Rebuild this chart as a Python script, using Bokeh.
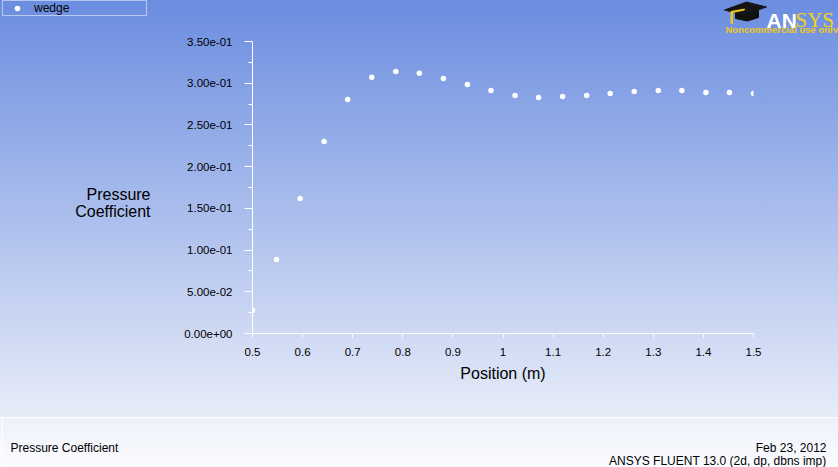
from bokeh.plotting import figure
from bokeh.layouts import column, row
from bokeh.models import (Range1d, FixedTicker, CustomJSTickFormatter, Label,
                          Legend, LegendItem)
from bokeh.embed import file_html
from bokeh.resources import INLINE

# ---------------- data ----------------
position = [0.5, 0.548, 0.595, 0.643, 0.690, 0.738, 0.786, 0.833, 0.881, 0.929, 0.976,
            1.024, 1.071, 1.119, 1.167, 1.214, 1.262, 1.310, 1.357, 1.405, 1.452, 1.5]
pressure_coefficient = [0.0276, 0.0887, 0.1619, 0.2302, 0.2806, 0.3070, 0.3141, 0.3118,
                        0.3058, 0.2986, 0.2914, 0.2854, 0.2830, 0.2842, 0.2854, 0.2878,
                        0.2902, 0.2914, 0.2914, 0.2890, 0.2890, 0.2878]
series_name = "wedge"
x_ticks = [0.5, 0.6, 0.7, 0.8, 0.9, 1.0, 1.1, 1.2, 1.3, 1.4, 1.5]
y_ticks = [0.0, 0.05, 0.10, 0.15, 0.20, 0.25, 0.30, 0.35]
y_minor_ticks = [0.025, 0.075, 0.125, 0.175, 0.225, 0.275, 0.325]
x_title = "Position (m)"
y_title = ["Pressure", "Coefficient"]
footer_left = "Pressure Coefficient"
footer_date = "Feb 23, 2012"
footer_version = "ANSYS FLUENT 13.0 (2d, dp, dbns imp)"
logo_main = ["AN", "SYS"]
logo_note = "Noncommercial use only"

# ---------------- page geometry (pixels) ----------------
PAGE_W, PAGE_H = 838, 467
SIDE_W = 176          # left strip: legend + y title
TOP_H = 33            # top strip: logo
FOOT_H = 50           # footer strip
FRAME_L, FRAME_R, FRAME_T, FRAME_B = 252, 753, 41, 333
FONT = "Liberation Sans"
YELLOW = "#ecca1c"


def blank(width, height, x0, y0):
    """Decoration canvas whose data units are page pixels (y grows downward)."""
    f = figure(width=width, height=height, output_backend="svg",
               toolbar_location=None, x_axis_type=None, y_axis_type=None,
               x_range=Range1d(x0, x0 + width), y_range=Range1d(y0 + height, y0),
               min_border=0, title_location=None)
    f.background_fill_alpha = 0
    f.border_fill_alpha = 0
    f.outline_line_color = None
    return f


def text(f, px, py, s, align="left", size="12px", color="black",
         font=FONT, style="normal"):
    f.add_layout(Label(x=px, y=py, text=s, text_align=align,
                       text_baseline="alphabetic", text_font=font,
                       text_font_style=style, text_font_size=size,
                       text_color=color))


# ---------------- main chart ----------------
main_w = PAGE_W - SIDE_W
main_h = PAGE_H - TOP_H - FOOT_H
p = figure(width=main_w, height=main_h, output_backend="svg", toolbar_location=None,
           x_range=Range1d(0.5, 1.5), y_range=Range1d(0.0, 0.35),
           min_border_left=FRAME_L - SIDE_W, min_border_right=PAGE_W - FRAME_R,
           min_border_top=FRAME_T - TOP_H, min_border_bottom=PAGE_H - FOOT_H - FRAME_B,
           title_location=None)
p.background_fill_alpha = 0
p.border_fill_alpha = 0
p.outline_line_color = None
p.xgrid.visible = False
p.ygrid.visible = False

xa = p.xaxis[0]
xa.ticker = FixedTicker(ticks=x_ticks, minor_ticks=[])
xa.formatter = CustomJSTickFormatter(code="return String(Math.round(tick*10)/10);")
xa.axis_label = x_title
xa.axis_line_color = "white"
xa.major_tick_line_color = "white"
xa.major_tick_out = 4
xa.major_tick_in = 0
xa.minor_tick_line_color = None
xa.major_label_text_font = FONT
xa.major_label_text_font_size = "11.5px"
xa.major_label_text_color = "black"
xa.major_label_standoff = 10
xa.axis_label_text_font = FONT
xa.axis_label_text_font_style = "normal"
xa.axis_label_text_font_size = "16px"
xa.axis_label_text_color = "black"
xa.axis_label_standoff = 6

ya = p.yaxis[0]
ya.ticker = FixedTicker(ticks=y_ticks, minor_ticks=y_minor_ticks)
ya.formatter = CustomJSTickFormatter(code="""
const s = tick.toExponential(2);
const parts = s.split('e');
let e = parts[1];
const sign = e[0] === '-' ? '-' : '+';
e = e.replace(/[+-]/, '');
if (e.length < 2) { e = '0' + e; }
return parts[0] + 'e' + sign + e;
""")
ya.axis_line_color = "white"
ya.major_tick_line_color = "white"
ya.minor_tick_line_color = "white"
ya.major_tick_out = 8
ya.major_tick_in = 0
ya.minor_tick_out = 4
ya.minor_tick_in = 0
ya.major_label_text_font = FONT
ya.major_label_text_font_size = "11.5px"
ya.major_label_text_color = "black"
ya.major_label_standoff = 12

p.scatter(position, pressure_coefficient, size=5.5, fill_color="white",
          line_color=None, marker="circle")

# ---------------- left strip: legend + y title ----------------
left = blank(SIDE_W, PAGE_H - FOOT_H, 0, 0)
# legend key glyph (its single point lies off the visible strip)
key = left.scatter(x=[-50], y=[-50], size=5.5, fill_color="white", line_color=None,
                   marker="circle")
legend = Legend(items=[LegendItem(label=series_name, renderers=[key])],
                location=(2, PAGE_H - FOOT_H - 2 - 14), padding=0, margin=0,
                spacing=0, glyph_width=28, glyph_height=14, label_standoff=3,
                label_width=112, label_height=14,
                border_line_color="white", border_line_width=1,
                background_fill_alpha=0,
                label_text_font=FONT, label_text_font_size="12px",
                label_text_color="black")
left.add_layout(legend, "center")
text(left, 150, 194, y_title[0], align="right", size="16px")
text(left, 150, 210.5, y_title[1], align="right", size="16px")

# ---------------- top strip: logo ----------------
top = blank(main_w, TOP_H, SIDE_W, 0)
top.patch([735, 758, 758, 747, 735], [10, 10, 17, 20.5, 18], color="#111111")
top.patch([724, 746, 766, 743], [9.5, 1.5, 6.5, 14.5], color="#151515")
top.patch([730.5, 732, 732, 730.5], [11, 11, 23, 23], color=YELLOW)
top.patch([730.5, 744, 744, 732], [11, 8.5, 9.5, 12], color=YELLOW)
text(top, 766, 19.5, logo_main[0], size="21px", color="white", style="bold")
text(top, 795, 19.5, logo_main[1], size="21px", color="#f0d21c", font="Liberation Serif")
text(top, 725, 28.5, logo_note, size="9.5px", color=YELLOW, style="bold")

# ---------------- footer ----------------
foot = blank(PAGE_W, FOOT_H, 0, PAGE_H - FOOT_H)
foot.line([1.5, 1.5], [PAGE_H - FOOT_H, PAGE_H], line_color="white", line_width=1)
text(foot, 10, 447.5, footer_left)
text(foot, 826, 447.5, footer_date, align="right")
text(foot, 826, 460, footer_version, align="right")

# the logo strip is wrapped in its own row so its frame is not aligned with the chart's
root = column(row(left, column(row(top), p)), foot)
root.styles = {
    "background-image": (
        "linear-gradient(to bottom, #6b8de0 0px, #e7ecf8 417px, #ffffff 417px, "
        "#ffffff 418px, #eef1fa 418px, #fbfcff %dpx)" % PAGE_H
    )
}

open("out.html", "w").write(file_html(root, INLINE))
